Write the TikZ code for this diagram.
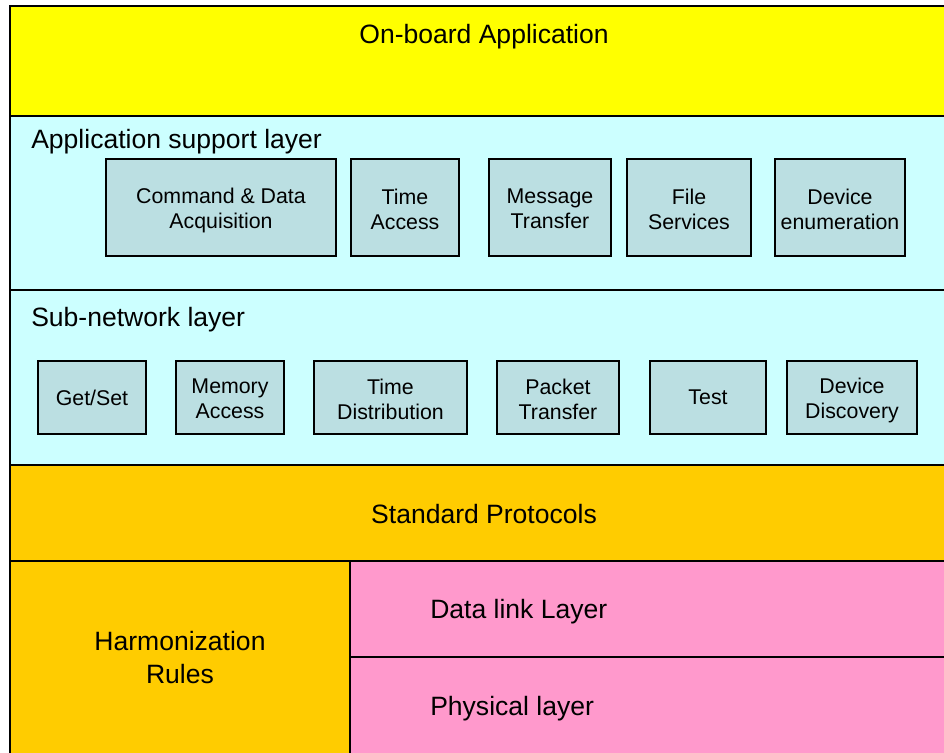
\documentclass[tikz,border=0pt]{standalone}
\usepackage{fontspec}
\setmainfont{Liberation Sans}
\definecolor{yel}{HTML}{FFFF00}
\definecolor{cyn}{HTML}{CCFFFF}
\definecolor{org}{HTML}{FFCC00}
\definecolor{pnk}{HTML}{FF99CC}
\definecolor{boxc}{HTML}{BBDFE2}
\tikzset{
  layer/.style={draw=black, line width=1.7pt},
  svc/.style={draw=black, line width=1.2pt, fill=boxc, inner sep=0pt},
  svctext/.style={inner sep=0pt, align=center, font=\fontsize{16}{18.75}\selectfont},
  big/.style={font=\fontsize{19.9}{24.75}\selectfont, inner sep=0pt},
}
\newcommand{\svcbox}[7]{% name, x1, y1, x2, y2, text, text y offset (px)
  \node[svc, minimum width={(#4-#2)*0.75pt}, minimum height={(#5-#3)*0.75pt}]
    (#1) at ({(#2+#4)/2},{(#3+#5)/2}) {};
  \node[svctext] (#1-t) at ([yshift={-(#7)*0.75pt}]#1.center) {#6};}
\begin{document}
\begin{tikzpicture}[x=0.75pt, y=-0.75pt]
\useasboundingbox (0,0) rectangle (944,752);
\clip (0,0) rectangle (944,752);
% layers
\draw[layer, fill=yel] (10,6) rectangle (960,116);
\draw[layer, fill=cyn] (10,116) rectangle (960,290);
\draw[layer, fill=cyn] (10,290) rectangle (960,465);
\draw[layer, fill=org] (10,465) rectangle (960,561);
\draw[layer, fill=org] (10,561) rectangle (350,770);
\draw[layer, fill=pnk] (350,561) rectangle (960,657);
\draw[layer, fill=pnk] (350,657) rectangle (960,770);
% layer labels
\node[big] (onboard) at (484,37) {On-board Application};
\node[big, anchor=west] (appsup) at (31,142) {Application support layer};
\node[big, anchor=west] (subnet) at (31,320) {Sub-network layer};
\node[big] (stdprot) at (484,514) {Standard Protocols};
\node[big, align=center] (harm) at (180,657.5) {Harmonization\\Rules};
\node[big, anchor=west] (dll) at (430,612) {Data link Layer};
\node[big, anchor=west] (phy) at (430,709) {Physical layer};
% application support services
\svcbox{cda}{106}{159}{336}{256}{Command \& Data\\Acquisition}{2.5}
\svcbox{ta}{351}{159}{459}{256}{Time\\Access}{1.5}
\svcbox{mt}{489}{159}{611}{256}{Message\\Transfer}{1.5}
\svcbox{fs}{627}{159}{751}{256}{File\\Services}{1.5}
\svcbox{de}{775}{159}{905}{256}{Device\\enumeration}{1.5}
% sub-network services
\svcbox{gs}{38}{361}{146}{434}{Get/Set}{0}
\svcbox{ma}{176}{361}{284}{434}{Memory\\Access}{1.5}
\svcbox{td}{314}{361}{467}{434}{Time\\Distribution}{1.5}
\svcbox{pt}{497}{361}{619}{434}{Packet\\Transfer}{1.5}
\svcbox{ts}{650}{361}{766}{434}{Test}{0}
\svcbox{dd}{787}{361}{917}{434}{Device\\Discovery}{3}
\end{tikzpicture}
\end{document}
